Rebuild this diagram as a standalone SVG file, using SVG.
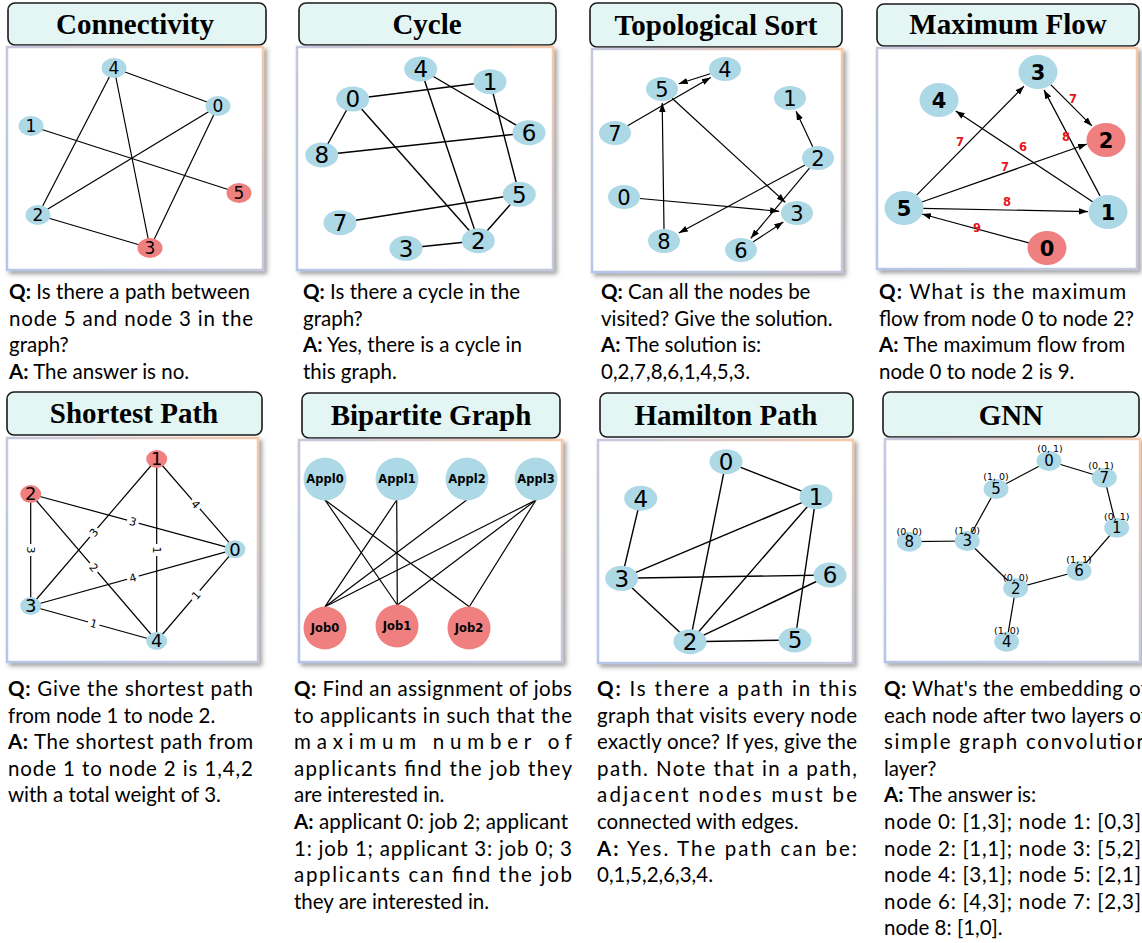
<svg xmlns="http://www.w3.org/2000/svg" width="1142" height="943" viewBox="0 0 1142 943">
<defs>
<linearGradient id="bord" x1="0" y1="1" x2="1" y2="0">
<stop offset="0" stop-color="#b4c6e7"/><stop offset="0.55" stop-color="#c8c8dc"/><stop offset="1" stop-color="#f6c9a8"/>
</linearGradient>
<filter id="sh" x="-5%" y="-5%" width="115%" height="115%">
<feDropShadow dx="3" dy="3" stdDeviation="2" flood-color="#666" flood-opacity="0.6"/>
</filter>
<marker id="ah" markerUnits="userSpaceOnUse" markerWidth="10" markerHeight="8" refX="9" refY="4" orient="auto">
<path d="M0,0.8 L9,4 L0,7.2 z" fill="#000"/>
</marker>
<style>
.tb{fill:#e3f6f4;stroke:#1a1a1a;stroke-width:1.6}
.tt{font-family:"Liberation Serif",serif;font-weight:bold;font-size:29px;text-anchor:middle;fill:#000}
.pn{fill:#fff;stroke:url(#bord);stroke-width:2.5;filter:url(#sh)}
.e line{stroke:#000;stroke-width:1.2}
.e2 line{stroke:#000;stroke-width:1.4}
.d line{stroke:#000;stroke-width:1.2;marker-end:url(#ah)}
.nb{fill:#add8e6}
.nr{fill:#f08080}
.l{font-family:"DejaVu Sans",sans-serif;text-anchor:middle;fill:#000}
.s17{font-size:17px}.s18{font-size:18px}.s21{font-size:21px}.s23{font-size:23px}.s15{font-size:15px}
.bf{font-family:"DejaVu Sans",sans-serif;font-weight:bold;text-anchor:middle;fill:#000;font-size:21px}
.ap{font-family:"DejaVu Sans",sans-serif;font-weight:bold;text-anchor:middle;fill:#000;font-size:11.5px}
.fl{font-family:"DejaVu Sans",sans-serif;font-weight:bold;text-anchor:middle;fill:#e8141a;font-size:11.5px}
.wl{font-family:"DejaVu Sans",sans-serif;text-anchor:middle;fill:#000;font-size:11px}
.ft{font-family:"DejaVu Sans",sans-serif;text-anchor:middle;fill:#000;font-size:9.5px}
.q{font-family:Lato,sans-serif;font-size:20.5px;fill:#000}
.b{font-weight:bold}
</style>
</defs>

<!-- Title boxes and panels -->
<g id="titles">
<rect class="tb" x="8" y="3" width="258" height="42" rx="7"/><text class="tt" x="135" y="34">Connectivity</text>
<rect class="tb" x="299" y="3" width="257" height="42" rx="7"/><text class="tt" x="427" y="34">Cycle</text>
<rect class="tb" x="590" y="3" width="252" height="44" rx="7"/><text class="tt" x="716" y="35">Topological Sort</text>
<rect class="tb" x="877" y="4" width="262" height="42" rx="7"/><text class="tt" x="1008" y="34">Maximum Flow</text>
<rect class="tb" x="7" y="392" width="255" height="43" rx="7"/><text class="tt" x="134" y="423">Shortest Path</text>
<rect class="tb" x="302" y="393" width="258" height="45" rx="7"/><text class="tt" x="431" y="425">Bipartite Graph</text>
<rect class="tb" x="600" y="393" width="253" height="44" rx="7"/><text class="tt" x="726" y="425">Hamilton Path</text>
<rect class="tb" x="883" y="392" width="256" height="45" rx="7"/><text class="tt" x="1011" y="425">GNN</text>
</g>
<g id="panels">
<rect class="pn" x="7" y="47" width="256" height="223"/>
<rect class="pn" x="297" y="47" width="256" height="223"/>
<rect class="pn" x="592" y="49" width="250" height="223"/>
<rect class="pn" x="877" y="48" width="260" height="221"/>
<rect class="pn" x="7" y="438" width="251" height="224"/>
<rect class="pn" x="299" y="440" width="263" height="222"/>
<rect class="pn" x="598" y="440" width="255" height="223"/>
<rect class="pn" x="885" y="439" width="255" height="223"/>
</g>

<!-- Connectivity -->
<g id="edges-connectivity" class="e">
<line x1="114" y1="68" x2="218" y2="106"/>
<line x1="114" y1="68" x2="38" y2="215"/>
<line x1="114" y1="68" x2="150" y2="248"/>
<line x1="31" y1="126" x2="239" y2="193"/>
<line x1="218" y1="106" x2="38" y2="215"/>
<line x1="218" y1="106" x2="150" y2="248"/>
<line x1="38" y1="215" x2="150" y2="248"/>
</g>
<g id="conn-n4"><ellipse class="nb" cx="114" cy="68" rx="12.5" ry="10"/><text class="l s17" x="114" y="68" dy="0.36em">4</text></g>
<g id="conn-n0"><ellipse class="nb" cx="218" cy="106" rx="12.5" ry="10"/><text class="l s17" x="218" y="106" dy="0.36em">0</text></g>
<g id="conn-n1"><ellipse class="nb" cx="31" cy="126" rx="12.5" ry="10"/><text class="l s17" x="31" y="126" dy="0.36em">1</text></g>
<g id="conn-n5"><ellipse class="nr" cx="239" cy="193" rx="12.5" ry="10"/><text class="l s17" x="239" y="193" dy="0.36em">5</text></g>
<g id="conn-n2"><ellipse class="nb" cx="38" cy="215" rx="12.5" ry="10"/><text class="l s17" x="38" y="215" dy="0.36em">2</text></g>
<g id="conn-n3"><ellipse class="nr" cx="150" cy="248" rx="12.5" ry="10"/><text class="l s17" x="150" y="248" dy="0.36em">3</text></g>

<!-- Cycle -->
<g id="edges-cycle" class="e2">
<line x1="352.7" y1="99" x2="490" y2="81.7"/>
<line x1="352.7" y1="99" x2="321.7" y2="155"/>
<line x1="352.7" y1="99" x2="478.3" y2="240.7"/>
<line x1="420.7" y1="69" x2="529" y2="132.7"/>
<line x1="420.7" y1="69" x2="478.3" y2="240.7"/>
<line x1="490" y1="81.7" x2="519.3" y2="194.3"/>
<line x1="321.7" y1="155" x2="529" y2="132.7"/>
<line x1="340" y1="222.7" x2="519.3" y2="194.3"/>
<line x1="519.3" y1="194.3" x2="478.3" y2="240.7"/>
<line x1="406" y1="248.3" x2="478.3" y2="240.7"/>
</g>
<g id="cyc-n4"><ellipse class="nb" cx="420.7" cy="69" rx="16.5" ry="12.5"/><text class="l s23" x="420.7" y="69" dy="0.36em">4</text></g>
<g id="cyc-n1"><ellipse class="nb" cx="490" cy="81.7" rx="16.5" ry="12.5"/><text class="l s23" x="490" y="81.7" dy="0.36em">1</text></g>
<g id="cyc-n0"><ellipse class="nb" cx="352.7" cy="99" rx="16.5" ry="12.5"/><text class="l s23" x="352.7" y="99" dy="0.36em">0</text></g>
<g id="cyc-n6"><ellipse class="nb" cx="529" cy="132.7" rx="16.5" ry="12.5"/><text class="l s23" x="529" y="132.7" dy="0.36em">6</text></g>
<g id="cyc-n8"><ellipse class="nb" cx="321.7" cy="155" rx="16.5" ry="12.5"/><text class="l s23" x="321.7" y="155" dy="0.36em">8</text></g>
<g id="cyc-n5"><ellipse class="nb" cx="519.3" cy="194.3" rx="16.5" ry="12.5"/><text class="l s23" x="519.3" y="194.3" dy="0.36em">5</text></g>
<g id="cyc-n7"><ellipse class="nb" cx="340" cy="222.7" rx="16.5" ry="12.5"/><text class="l s23" x="340" y="222.7" dy="0.36em">7</text></g>
<g id="cyc-n2"><ellipse class="nb" cx="478.3" cy="240.7" rx="16.5" ry="12.5"/><text class="l s23" x="478.3" y="240.7" dy="0.36em">2</text></g>
<g id="cyc-n3"><ellipse class="nb" cx="406" cy="248.3" rx="16.5" ry="12.5"/><text class="l s23" x="406" y="248.3" dy="0.36em">3</text></g>

<!-- Topological Sort -->
<g id="edges-topo" class="d">
<line x1="710.2" y1="73.7" x2="678.7" y2="83.7"/>
<line x1="627.6" y1="125.7" x2="710.7" y2="77.4"/>
<line x1="664" y1="229" x2="662.2" y2="103"/>
<line x1="672.1" y1="98.3" x2="785.4" y2="202.4"/>
<line x1="812.7" y1="146.7" x2="796.1" y2="111.2"/>
<line x1="805" y1="165" x2="678.8" y2="233"/>
<line x1="809.5" y1="168.2" x2="750.8" y2="238.3"/>
<line x1="639.9" y1="198.5" x2="779.1" y2="211.3"/>
<line x1="753" y1="242.1" x2="783.3" y2="222"/>
</g>
<g id="topo-n4"><ellipse class="nb" cx="725" cy="69" rx="16" ry="12"/><text class="l s21" x="725" y="69" dy="0.36em">4</text></g>
<g id="topo-n5"><ellipse class="nb" cx="662" cy="89" rx="16" ry="12"/><text class="l s21" x="662" y="89" dy="0.36em">5</text></g>
<g id="topo-n1"><ellipse class="nb" cx="790" cy="98" rx="16" ry="12"/><text class="l s21" x="790" y="98" dy="0.36em">1</text></g>
<g id="topo-n7"><ellipse class="nb" cx="615" cy="133" rx="16" ry="12"/><text class="l s21" x="615" y="133" dy="0.36em">7</text></g>
<g id="topo-n2"><ellipse class="nb" cx="818" cy="158" rx="16" ry="12"/><text class="l s21" x="818" y="158" dy="0.36em">2</text></g>
<g id="topo-n0"><ellipse class="nb" cx="624" cy="197" rx="16" ry="12"/><text class="l s21" x="624" y="197" dy="0.36em">0</text></g>
<g id="topo-n3"><ellipse class="nb" cx="797" cy="213" rx="16" ry="12"/><text class="l s21" x="797" y="213" dy="0.36em">3</text></g>
<g id="topo-n8"><ellipse class="nb" cx="664" cy="241" rx="16" ry="12"/><text class="l s21" x="664" y="241" dy="0.36em">8</text></g>
<g id="topo-n6"><ellipse class="nb" cx="741" cy="250" rx="16" ry="12"/><text class="l s21" x="741" y="250" dy="0.36em">6</text></g>

<!-- Maximum Flow -->
<g id="edges-flow" class="d">
<line x1="916.6" y1="195.2" x2="1024" y2="86.2"/>
<line x1="1093" y1="202.1" x2="955.7" y2="111"/>
<line x1="1050.7" y1="84.7" x2="1091.9" y2="125.9"/>
<line x1="1100" y1="195.9" x2="1044" y2="89.9"/>
<line x1="921.1" y1="202.3" x2="1087" y2="144"/>
<line x1="922" y1="208.4" x2="1088" y2="211.6"/>
<line x1="1029.7" y1="243.2" x2="922" y2="214"/>
</g>
<g id="flow-labels">
<text class="fl" x="960" y="146">7</text>
<text class="fl" x="1023" y="151">6</text>
<text class="fl" x="1073" y="103">7</text>
<text class="fl" x="1066" y="141">8</text>
<text class="fl" x="1005" y="171">7</text>
<text class="fl" x="1007" y="206">8</text>
<text class="fl" x="977" y="232">9</text>
</g>
<g id="flow-n3"><ellipse class="nb" cx="1038" cy="72" rx="19.5" ry="17"/><text class="bf" x="1038" y="72" dy="0.36em">3</text></g>
<g id="flow-n4"><ellipse class="nb" cx="939" cy="100" rx="19.5" ry="17"/><text class="bf" x="939" y="100" dy="0.36em">4</text></g>
<g id="flow-n2"><ellipse class="nr" cx="1106" cy="140" rx="19.5" ry="17"/><text class="bf" x="1106" y="140" dy="0.36em">2</text></g>
<g id="flow-n5"><ellipse class="nb" cx="904" cy="208" rx="19.5" ry="17"/><text class="bf" x="904" y="208" dy="0.36em">5</text></g>
<g id="flow-n1"><ellipse class="nb" cx="1108" cy="212" rx="19.5" ry="17"/><text class="bf" x="1108" y="212" dy="0.36em">1</text></g>
<g id="flow-n0"><ellipse class="nr" cx="1047" cy="248" rx="19.5" ry="17"/><text class="bf" x="1047" y="248" dy="0.36em">0</text></g>

<!-- Shortest Path -->
<g id="edges-shortest" class="e">
<line x1="156.7" y1="459" x2="235" y2="549.3"/>
<line x1="30.7" y1="494" x2="235" y2="549.3"/>
<line x1="30.7" y1="494" x2="30.7" y2="606"/>
<line x1="156.7" y1="459" x2="30.7" y2="606"/>
<line x1="156.7" y1="459" x2="156.7" y2="641"/>
<line x1="30.7" y1="494" x2="156.7" y2="641"/>
<line x1="30.7" y1="606" x2="235" y2="549.3"/>
<line x1="235" y1="549.3" x2="156.7" y2="641"/>
<line x1="30.7" y1="606" x2="156.7" y2="641"/>
</g>
<g id="shortest-labels">
<g transform="translate(195.9,504.2) rotate(49.1)"><rect x="-6" y="-7" width="12" height="14" fill="#fff"/><text class="wl" dy="0.36em">4</text></g>
<g transform="translate(132.9,521.7) rotate(15.1)"><rect x="-6" y="-7" width="12" height="14" fill="#fff"/><text class="wl" dy="0.36em">3</text></g>
<g transform="translate(30.7,550) rotate(90)"><rect x="-6" y="-7" width="12" height="14" fill="#fff"/><text class="wl" dy="0.36em">3</text></g>
<g transform="translate(93.7,532.5) rotate(-49.4)"><rect x="-6" y="-7" width="12" height="14" fill="#fff"/><text class="wl" dy="0.36em">3</text></g>
<g transform="translate(156.7,550) rotate(90)"><rect x="-6" y="-7" width="12" height="14" fill="#fff"/><text class="wl" dy="0.36em">1</text></g>
<g transform="translate(93.7,567.5) rotate(49.4)"><rect x="-6" y="-7" width="12" height="14" fill="#fff"/><text class="wl" dy="0.36em">2</text></g>
<g transform="translate(132.9,577.7) rotate(-15.5)"><rect x="-6" y="-7" width="12" height="14" fill="#fff"/><text class="wl" dy="0.36em">4</text></g>
<g transform="translate(195.9,595.2) rotate(-49.5)"><rect x="-6" y="-7" width="12" height="14" fill="#fff"/><text class="wl" dy="0.36em">1</text></g>
<g transform="translate(93.7,623.5) rotate(15.5)"><rect x="-6" y="-7" width="12" height="14" fill="#fff"/><text class="wl" dy="0.36em">1</text></g>
</g>
<g id="sp-n1"><ellipse class="nr" cx="156.7" cy="459" rx="10.5" ry="9"/><text class="l s18" x="156.7" y="459" dy="0.36em">1</text></g>
<g id="sp-n2"><ellipse class="nr" cx="30.7" cy="494" rx="10.5" ry="9"/><text class="l s18" x="30.7" y="494" dy="0.36em">2</text></g>
<g id="sp-n0"><ellipse class="nb" cx="235" cy="549.3" rx="10.5" ry="9"/><text class="l s18" x="235" y="549.3" dy="0.36em">0</text></g>
<g id="sp-n3"><ellipse class="nb" cx="30.7" cy="606" rx="10.5" ry="9"/><text class="l s18" x="30.7" y="606" dy="0.36em">3</text></g>
<g id="sp-n4"><ellipse class="nb" cx="156.7" cy="641" rx="10.5" ry="9"/><text class="l s18" x="156.7" y="641" dy="0.36em">4</text></g>

<!-- Bipartite Graph -->
<g id="edges-bipartite" class="e">
<line x1="325" y1="500" x2="397.3" y2="605"/>
<line x1="325" y1="500" x2="469.3" y2="606.7"/>
<line x1="396.7" y1="500" x2="325" y2="606.7"/>
<line x1="396.7" y1="500" x2="397.3" y2="605"/>
<line x1="466.7" y1="500" x2="325" y2="606.7"/>
<line x1="536" y1="500" x2="325" y2="606.7"/>
<line x1="536" y1="500" x2="397.3" y2="605"/>
<line x1="536" y1="500" x2="469.3" y2="606.7"/>
</g>
<g id="bp-appl0"><circle class="nb" cx="325" cy="479" r="21.5"/><text class="ap" x="325" y="479" dy="0.36em">Appl0</text></g>
<g id="bp-appl1"><circle class="nb" cx="397" cy="479" r="21.5"/><text class="ap" x="397" y="479" dy="0.36em">Appl1</text></g>
<g id="bp-appl2"><circle class="nb" cx="467" cy="479" r="21.5"/><text class="ap" x="467" y="479" dy="0.36em">Appl2</text></g>
<g id="bp-appl3"><circle class="nb" cx="536" cy="479" r="21.5"/><text class="ap" x="536" y="479" dy="0.36em">Appl3</text></g>
<g id="bp-job0"><circle class="nr" cx="325" cy="628" r="21.5"/><text class="ap" x="325" y="628" dy="0.36em">Job0</text></g>
<g id="bp-job1"><circle class="nr" cx="397" cy="626" r="21.5"/><text class="ap" x="397" y="626" dy="0.36em">Job1</text></g>
<g id="bp-job2"><circle class="nr" cx="469" cy="628" r="21.5"/><text class="ap" x="469" y="628" dy="0.36em">Job2</text></g>

<!-- Hamilton Path -->
<g id="edges-hamilton" class="e2">
<line x1="726" y1="461.7" x2="816" y2="496.7"/>
<line x1="726" y1="461.7" x2="690" y2="641.7"/>
<line x1="640.7" y1="498.3" x2="621.7" y2="578.3"/>
<line x1="621.7" y1="578.3" x2="816" y2="496.7"/>
<line x1="621.7" y1="578.3" x2="830" y2="575"/>
<line x1="621.7" y1="578.3" x2="690" y2="641.7"/>
<line x1="816" y1="496.7" x2="690" y2="641.7"/>
<line x1="816" y1="496.7" x2="795" y2="640"/>
<line x1="830" y1="575" x2="690" y2="641.7"/>
<line x1="690" y1="641.7" x2="795" y2="640"/>
</g>
<g id="ham-n0"><ellipse class="nb" cx="726" cy="461.7" rx="16.5" ry="12.5"/><text class="l s23" x="726" y="461.7" dy="0.36em">0</text></g>
<g id="ham-n1"><ellipse class="nb" cx="816" cy="496.7" rx="16.5" ry="12.5"/><text class="l s23" x="816" y="496.7" dy="0.36em">1</text></g>
<g id="ham-n4"><ellipse class="nb" cx="640.7" cy="498.3" rx="16.5" ry="12.5"/><text class="l s23" x="640.7" y="498.3" dy="0.36em">4</text></g>
<g id="ham-n3"><ellipse class="nb" cx="621.7" cy="578.3" rx="16.5" ry="12.5"/><text class="l s23" x="621.7" y="578.3" dy="0.36em">3</text></g>
<g id="ham-n6"><ellipse class="nb" cx="830" cy="575" rx="16.5" ry="12.5"/><text class="l s23" x="830" y="575" dy="0.36em">6</text></g>
<g id="ham-n2"><ellipse class="nb" cx="690" cy="641.7" rx="16.5" ry="12.5"/><text class="l s23" x="690" y="641.7" dy="0.36em">2</text></g>
<g id="ham-n5"><ellipse class="nb" cx="795" cy="640" rx="16.5" ry="12.5"/><text class="l s23" x="795" y="640" dy="0.36em">5</text></g>

<!-- GNN -->
<g id="edges-gnn" class="e">
<line x1="1049" y1="461" x2="996" y2="489"/>
<line x1="1049" y1="461" x2="1104.3" y2="477.7"/>
<line x1="1104.3" y1="477.7" x2="1116.7" y2="527.7"/>
<line x1="1116.7" y1="527.7" x2="1079" y2="571"/>
<line x1="1079" y1="571" x2="1015.7" y2="588.3"/>
<line x1="1015.7" y1="588.3" x2="967.3" y2="541"/>
<line x1="967.3" y1="541" x2="996" y2="489"/>
<line x1="967.3" y1="541" x2="909.3" y2="541.7"/>
<line x1="1015.7" y1="588.3" x2="1006.7" y2="641.7"/>
</g>
<g id="gnn-n0"><ellipse class="nb" cx="1049" cy="461" rx="12.5" ry="10"/><text class="l s15" x="1049" y="461" dy="0.36em">0</text><text class="ft" x="1050" y="451.5">(0, 1)</text></g>
<g id="gnn-n7"><ellipse class="nb" cx="1104.3" cy="477.7" rx="12.5" ry="10"/><text class="l s15" x="1104.3" y="477.7" dy="0.36em">7</text><text class="ft" x="1101" y="469">(0, 1)</text></g>
<g id="gnn-n5"><ellipse class="nb" cx="996" cy="489" rx="12.5" ry="10"/><text class="l s15" x="996" y="489" dy="0.36em">5</text><text class="ft" x="996" y="479.5">(1, 0)</text></g>
<g id="gnn-n1"><ellipse class="nb" cx="1116.7" cy="527.7" rx="12.5" ry="10"/><text class="l s15" x="1116.7" y="527.7" dy="0.36em">1</text><text class="ft" x="1116.7" y="520">(0, 1)</text></g>
<g id="gnn-n8"><ellipse class="nb" cx="909.3" cy="541.7" rx="12.5" ry="10"/><text class="l s15" x="909.3" y="541.7" dy="0.36em">8</text><text class="ft" x="909.3" y="534.5">(0, 0)</text></g>
<g id="gnn-n3"><ellipse class="nb" cx="967.3" cy="541" rx="12.5" ry="10"/><text class="l s15" x="967.3" y="541" dy="0.36em">3</text><text class="ft" x="967.3" y="534">(1, 0)</text></g>
<g id="gnn-n6"><ellipse class="nb" cx="1079" cy="571" rx="12.5" ry="10"/><text class="l s15" x="1079" y="571" dy="0.36em">6</text><text class="ft" x="1079" y="562.5">(1, 1)</text></g>
<g id="gnn-n2"><ellipse class="nb" cx="1015.7" cy="588.3" rx="12.5" ry="10"/><text class="l s15" x="1015.7" y="588.3" dy="0.36em">2</text><text class="ft" x="1015.7" y="581">(0, 0)</text></g>
<g id="gnn-n4"><ellipse class="nb" cx="1006.7" cy="641.7" rx="12.5" ry="10"/><text class="l s15" x="1006.7" y="641.7" dy="0.36em">4</text><text class="ft" x="1006.7" y="634">(1, 0)</text></g>

<!-- Q/A texts -->
<g id="qa-connectivity" class="q">
<text x="9" y="299" textLength="241" lengthAdjust="spacing"><tspan class="b">Q:</tspan> Is there a path between</text>
<text x="9" y="325.7" textLength="244" lengthAdjust="spacing">node 5 and node 3 in the</text>
<text x="9" y="352.3">graph?</text>
<text x="9" y="379"><tspan class="b">A:</tspan> The answer is no.</text>
</g>
<g id="qa-cycle" class="q">
<text x="303" y="299" textLength="217" lengthAdjust="spacing"><tspan class="b">Q:</tspan> Is there a cycle in the</text>
<text x="303" y="325.7">graph?</text>
<text x="303" y="352.3" textLength="219" lengthAdjust="spacing"><tspan class="b">A:</tspan> Yes, there is a cycle in</text>
<text x="303" y="379">this graph.</text>
</g>
<g id="qa-topo" class="q">
<text x="601" y="299"><tspan class="b">Q:</tspan> Can all the nodes be</text>
<text x="601" y="325.7">visited? Give the solution.</text>
<text x="601" y="352.3"><tspan class="b">A:</tspan> The solution is:</text>
<text x="601" y="379">0,2,7,8,6,1,4,5,3.</text>
</g>
<g id="qa-flow" class="q">
<text x="879" y="299" textLength="247" lengthAdjust="spacing"><tspan class="b">Q:</tspan> What is the maximum</text>
<text x="879" y="325.7" textLength="255" lengthAdjust="spacing">flow from node 0 to node 2?</text>
<text x="879" y="352.3" textLength="246" lengthAdjust="spacing"><tspan class="b">A:</tspan> The maximum flow from</text>
<text x="879" y="379">node 0 to node 2 is 9.</text>
</g>
<g id="qa-shortest" class="q">
<text x="8" y="696" textLength="245" lengthAdjust="spacing"><tspan class="b">Q:</tspan> Give the shortest path</text>
<text x="8" y="722.6">from node 1 to node 2.</text>
<text x="8" y="749.2" textLength="245" lengthAdjust="spacing"><tspan class="b">A:</tspan> The shortest path from</text>
<text x="8" y="775.8" textLength="245" lengthAdjust="spacing">node 1 to node 2 is 1,4,2</text>
<text x="8" y="802.4">with a total weight of 3.</text>
</g>
<g id="qa-bipartite" class="q">
<text x="294" y="696" textLength="278" lengthAdjust="spacing"><tspan class="b">Q:</tspan> Find an assignment of jobs</text>
<text x="294" y="722.6" textLength="278" lengthAdjust="spacing">to applicants in such that the</text>
<text x="294" y="749.2" textLength="278" lengthAdjust="spacing">maximum number of</text>
<text x="294" y="775.8" textLength="278" lengthAdjust="spacing">applicants find the job they</text>
<text x="294" y="802.4">are interested in.</text>
<text x="294" y="829" textLength="274" lengthAdjust="spacing"><tspan class="b">A:</tspan> applicant 0: job 2; applicant</text>
<text x="294" y="855.6" textLength="278" lengthAdjust="spacing">1: job 1; applicant 3: job 0; 3</text>
<text x="294" y="882.2" textLength="278" lengthAdjust="spacing">applicants can find the job</text>
<text x="294" y="908.8">they are interested in.</text>
</g>
<g id="qa-hamilton" class="q">
<text x="597" y="696" textLength="260" lengthAdjust="spacing"><tspan class="b">Q:</tspan> Is there a path in this</text>
<text x="597" y="722.6" textLength="260" lengthAdjust="spacing">graph that visits every node</text>
<text x="597" y="749.2" textLength="260" lengthAdjust="spacing">exactly once? If yes, give the</text>
<text x="597" y="775.8" textLength="260" lengthAdjust="spacing">path. Note that in a path,</text>
<text x="597" y="802.4" textLength="260" lengthAdjust="spacing">adjacent nodes must be</text>
<text x="597" y="829">connected with edges.</text>
<text x="597" y="855.6" textLength="260" lengthAdjust="spacing"><tspan class="b">A:</tspan> Yes. The path can be:</text>
<text x="597" y="882.2">0,1,5,2,6,3,4.</text>
</g>
<g id="qa-gnn" class="q">
<text x="884" y="696" textLength="264" lengthAdjust="spacing"><tspan class="b">Q:</tspan> What's the embedding of</text>
<text x="884" y="722.6" textLength="264" lengthAdjust="spacing">each node after two layers of</text>
<text x="884" y="749.2" textLength="264" lengthAdjust="spacing">simple graph convolution</text>
<text x="884" y="775.8">layer?</text>
<text x="884" y="802.4"><tspan class="b">A:</tspan> The answer is:</text>
<text x="884" y="829" textLength="263" lengthAdjust="spacing">node 0: [1,3]; node 1: [0,3];</text>
<text x="884" y="855.6" textLength="263" lengthAdjust="spacing">node 2: [1,1]; node 3: [5,2];</text>
<text x="884" y="882.2" textLength="263" lengthAdjust="spacing">node 4: [3,1]; node 5: [2,1];</text>
<text x="884" y="908.8" textLength="263" lengthAdjust="spacing">node 6: [4,3]; node 7: [2,3];</text>
<text x="884" y="935.4">node 8: [1,0].</text>
</g>
</svg>
